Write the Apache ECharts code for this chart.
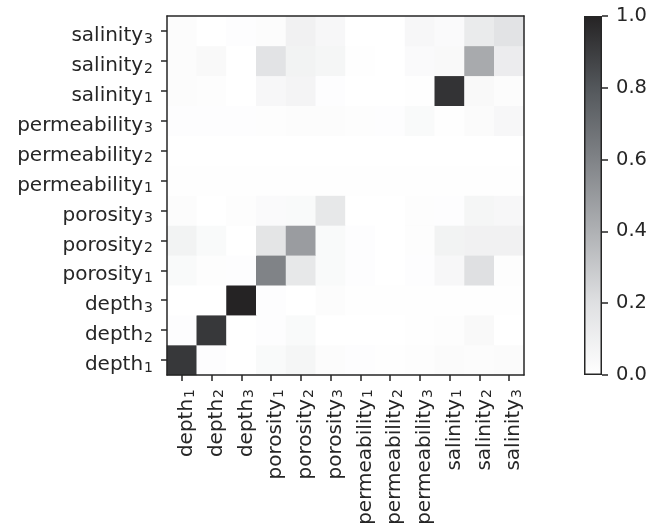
<!DOCTYPE html>
<html>
<head>
<meta charset="utf-8">
<script src="https://cdn.jsdelivr.net/npm/echarts@6/dist/echarts.min.js"></script>
<style>
  html, body { margin: 0; padding: 0; background: #ffffff; }
  #chart { width: 662px; height: 530px; }
</style>
</head>
<body>
<div id="chart"></div>
<script>
// Variable names (x axis left→right, y axis bottom→top); "_n" marks the subscript
const labels = [
  'depth_1', 'depth_2', 'depth_3',
  'porosity_1', 'porosity_2', 'porosity_3',
  'permeability_1', 'permeability_2', 'permeability_3',
  'salinity_1', 'salinity_2', 'salinity_3'
];

// One row of the matrix per variable; columns follow `labels`
const depth1        = [0.92, 0.01, 0.00, 0.035, 0.06, 0.02, 0.01, 0.005, 0.015, 0.025, 0.02, 0.025];
const depth2        = [0.01, 0.92, 0.00, 0.01, 0.035, 0.003, 0.003, 0.003, 0.005, 0.015, 0.04, 0.003];
const depth3        = [0.00, 0.00, 1.00, 0.01, 0.00, 0.02, 0.005, 0.005, 0.005, 0.005, 0.005, 0.005];
const porosity1     = [0.035, 0.015, 0.01, 0.60, 0.15, 0.035, 0.01, 0.003, 0.01, 0.05, 0.20, 0.015];
const porosity2     = [0.08, 0.035, 0.00, 0.17, 0.49, 0.035, 0.01, 0.003, 0.015, 0.08, 0.09, 0.09];
const porosity3     = [0.02, 0.00, 0.015, 0.03, 0.035, 0.15, 0.00, 0.003, 0.015, 0.01, 0.06, 0.05];
const permeability1 = [0.005, 0.005, 0.005, 0.005, 0.005, 0.005, 0.005, 0.005, 0.005, 0.005, 0.005, 0.005];
const permeability2 = [0.003, 0.003, 0.003, 0.003, 0.003, 0.003, 0.003, 0.003, 0.003, 0.003, 0.003, 0.003];
const permeability3 = [0.01, 0.01, 0.01, 0.015, 0.02, 0.02, 0.015, 0.01, 0.035, 0.005, 0.025, 0.05];
const salinity1     = [0.02, 0.015, 0.00, 0.05, 0.07, 0.01, 0.00, 0.00, 0.005, 0.94, 0.04, 0.02];
const salinity2     = [0.02, 0.04, 0.00, 0.18, 0.08, 0.06, 0.005, 0.00, 0.03, 0.04, 0.43, 0.12];
const salinity3     = [0.02, 0.00, 0.01, 0.02, 0.09, 0.05, 0.00, 0.00, 0.05, 0.03, 0.13, 0.18];

const rows = [depth1, depth2, depth3, porosity1, porosity2, porosity3,
              permeability1, permeability2, permeability3,
              salinity1, salinity2, salinity3];

// Colour ramp, evenly spaced from 0 to 1
const rampColors = ['#ffffff', '#dfe0e2', '#afb1b4', '#808387', '#53575b', '#252324'];

const colorbarTicks = [0, 0.2, 0.4, 0.6, 0.8, 1.0];

const ink = '#262626';
const font = 'DejaVu Sans';
const fontSize = 20;

// name with a lowered, smaller index
const subLabel = s => {
  const [name, idx] = s.split('_');
  return '{b|' + name + '}{s|' + idx + '}';
};
const labelRich = {
  b: { fontSize: fontSize, fontFamily: font, color: ink, lineHeight: 30, verticalAlign: 'bottom' },
  s: { fontSize: 14, fontFamily: font, color: ink, lineHeight: 14, verticalAlign: 'bottom', padding: [0, 0, 0, 1] }
};

const cells = [];
rows.forEach((row, yi) => row.forEach((v, xi) => cells.push([xi, yi, v])));

const chart = echarts.init(document.getElementById('chart'), null, { renderer: 'canvas' });

const frameAxis = {
  axisLine: { show: true, lineStyle: { color: ink, width: 1.5 } },
  axisTick: { show: false },
  axisLabel: { show: false },
  splitLine: { show: false },
  z: 5
};

chart.setOption({
  animation: false,
  backgroundColor: '#ffffff',
  textStyle: { fontFamily: font },
  grid: [
    { left: 167, top: 16, width: 357, height: 359 },
    { left: 584, top: 16, width: 18, height: 359 }
  ],
  xAxis: [
    {
      type: 'category', data: labels, gridIndex: 0, position: 'bottom',
      axisLine: { show: true, lineStyle: { color: ink, width: 1.5 } },
      axisTick: { show: true, alignWithLabel: true, length: 6, lineStyle: { color: ink, width: 1.5 } },
      axisLabel: { rotate: 90, margin: 14, interval: 0, formatter: subLabel, rich: labelRich },
      splitLine: { show: false },
      z: 5
    },
    Object.assign({ type: 'category', data: labels, gridIndex: 0, position: 'top' }, frameAxis),
    { type: 'category', data: ['c'], gridIndex: 1, show: false }
  ],
  yAxis: [
    {
      type: 'category', data: labels, gridIndex: 0, position: 'left',
      axisLine: { show: true, lineStyle: { color: ink, width: 1.5 } },
      axisTick: { show: true, alignWithLabel: true, length: 6, lineStyle: { color: ink, width: 1.5 } },
      axisLabel: { margin: 14, interval: 0, formatter: subLabel, rich: labelRich },
      splitLine: { show: false },
      z: 5
    },
    Object.assign({ type: 'category', data: labels, gridIndex: 0, position: 'right' }, frameAxis),
    {
      type: 'value', gridIndex: 1, position: 'right',
      min: colorbarTicks[0], max: colorbarTicks[colorbarTicks.length - 1], interval: 0.2,
      axisLine: { show: false },
      axisTick: { show: true, length: 6, lineStyle: { color: ink, width: 1.5 } },
      axisLabel: { color: ink, fontSize: 19.5, fontFamily: font, margin: 14,
                   formatter: v => v.toFixed(1) },
      splitLine: { show: false },
      z: 5
    }
  ],
  visualMap: {
    show: false, type: 'continuous', min: 0, max: 1,
    seriesIndex: 0, inRange: { color: rampColors }
  },
  series: [
    {
      type: 'heatmap', xAxisIndex: 0, yAxisIndex: 0, data: cells,
      itemStyle: { borderWidth: 0 }, emphasis: { disabled: true }
    },
    {
      // colour bar: one full-height bar painted with the same ramp
      type: 'bar', xAxisIndex: 2, yAxisIndex: 2,
      data: [colorbarTicks[colorbarTicks.length - 1]],
      barWidth: '100%',
      itemStyle: {
        color: new echarts.graphic.LinearGradient(0, 1, 0, 0,
          rampColors.map((c, i) => ({ offset: i / (rampColors.length - 1), color: c }))),
        borderColor: ink, borderWidth: 1.5
      },
      emphasis: { disabled: true }
    }
  ]
});
</script>
</body>
</html>
